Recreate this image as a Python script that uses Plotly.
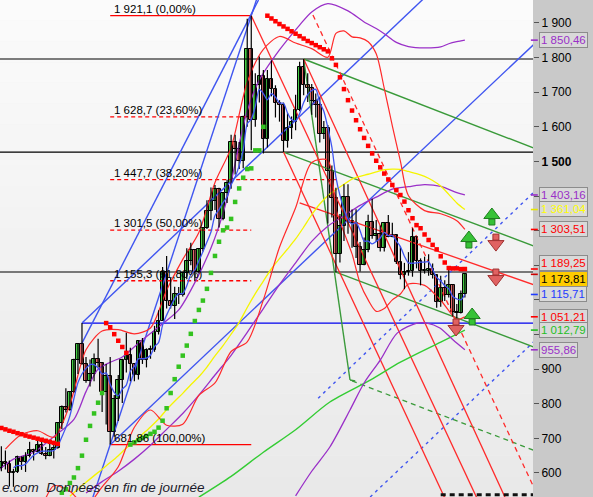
import plotly.graph_objects as go

# ---------------- data (monthly gold candles, index 0 = Aug 2006) ----------------
idx = list(range(-2, 115))
opens = [643, 613, 633, 626, 599, 604, 646, 632, 650, 665, 662, 680, 656, 650, 666, 673, 743, 790, 783, 834,
         925, 972, 916, 865, 886, 928, 918, 833, 880, 719, 815, 869, 927, 942, 916, 884, 980, 927, 955, 955,
         1007, 1040, 1180, 1096, 1082, 1118, 1113, 1179, 1213, 1244, 1181, 1248, 1307, 1357, 1386, 1421, 1333, 1410, 1439, 1556,
         1536, 1500, 1628, 1826, 1620, 1722, 1746, 1566, 1738, 1710, 1669, 1664, 1560, 1598, 1614, 1648, 1772, 1720, 1712, 1675,
         1663, 1578, 1597, 1472, 1393, 1234, 1314, 1396, 1327, 1323, 1253, 1202, 1244, 1326, 1284, 1291, 1250, 1322, 1282, 1287,
         1210, 1171, 1182, 1184, 1283, 1213, 1183, 1183, 1190, 1172, 1095, 1134, 1115, 1142, 1065, 1061, 1118]
highs = [644, 677, 665, 636, 612, 650, 648, 660, 690, 670, 693, 692, 675, 685, 681, 745, 795, 845, 837, 930,
         975, 1033, 935, 928, 945, 988, 920, 915, 935, 825, 883, 930, 1005, 962, 918, 982, 990, 960, 968, 1025,
         1070, 1195, 1227, 1163, 1138, 1137, 1180, 1249, 1265, 1245, 1250, 1310, 1388, 1425, 1432, 1424, 1412, 1447, 1577, 1577,
         1556, 1632, 1912, 1921.1, 1755, 1803, 1764, 1764, 1792, 1720, 1677, 1670, 1640, 1630, 1693, 1788, 1796, 1755, 1724, 1696,
         1684, 1617, 1605, 1488, 1424, 1348, 1434, 1434, 1361, 1362, 1267, 1280, 1346, 1392, 1331, 1315, 1325, 1345, 1323, 1290,
         1255, 1207, 1238, 1307, 1284, 1220, 1225, 1232, 1205, 1173, 1170, 1157, 1191, 1143, 1088, 1127, 1178]
lows = [543, 605, 610, 561, 560, 600, 609, 603, 645, 636, 660, 652, 640, 648, 642, 670, 727, 775, 780, 832,
        886, 913, 861, 850, 865, 905, 776, 740, 682, 705, 750, 802, 890, 865, 865, 870, 915, 905, 930, 950,
        1000, 1040, 1075, 1075, 1045, 1088, 1110, 1160, 1200, 1155, 1176, 1240, 1305, 1330, 1360, 1309, 1330, 1380, 1421, 1462,
        1478, 1480, 1600, 1532, 1600, 1670, 1523, 1540, 1688, 1627, 1615, 1527, 1540, 1565, 1590, 1645, 1691, 1672, 1635, 1627,
        1555, 1565, 1321, 1338, 1180, 1208, 1270, 1291, 1251, 1221, 1182, 1200, 1238, 1277, 1268, 1240, 1240, 1281, 1281, 1204,
        1160, 1131, 1170, 1167, 1191, 1142, 1176, 1170, 1162, 1077, 1080, 1097, 1107, 1052, 1046, 1061, 1107]
closes = [613, 633, 626, 599, 604, 646, 632, 650, 665, 662, 680, 656, 650, 666, 673, 743, 790, 783, 834, 925,
          972, 916, 865, 886, 928, 918, 833, 880, 719, 815, 869, 927, 942, 916, 884, 980, 927, 955, 955, 1007,
          1040, 1180, 1096, 1082, 1118, 1113, 1179, 1213, 1244, 1181, 1248, 1307, 1357, 1386, 1421, 1333, 1410, 1439, 1556, 1536,
          1500, 1628, 1826, 1620, 1722, 1746, 1566, 1738, 1710, 1669, 1664, 1560, 1598, 1614, 1648, 1772, 1720, 1712, 1675, 1663,
          1578, 1597, 1472, 1393, 1234, 1314, 1396, 1327, 1323, 1253, 1202, 1244, 1326, 1284, 1291, 1250, 1322, 1282, 1287, 1210,
          1171, 1182, 1184, 1283, 1213, 1183, 1183, 1190, 1172, 1095, 1134, 1115, 1142, 1065, 1061, 1118, 1173.81]

# short moving average (blue), index 2..114
ma_short_x = list(range(2, 115))
ma_short = [615, 622, 621, 626, 639, 651, 658, 663, 663, 663, 665, 678, 704, 731, 765, 815, 861, 886, 902, 913,
            913, 903, 886, 889, 856, 833, 823, 842, 854, 894, 908, 930, 930, 932, 940, 965, 977, 1027, 1056, 1081,
            1103, 1118, 1118, 1141, 1173, 1186, 1213, 1239, 1267, 1296, 1344, 1361, 1381, 1398, 1432, 1455, 1488, 1532, 1609, 1622,
            1659, 1708, 1696, 1678, 1696, 1686, 1669, 1668, 1640, 1621, 1617, 1638, 1670, 1693, 1705, 1708, 1670, 1645, 1597, 1541,
            1455, 1402, 1362, 1333, 1319, 1323, 1300, 1270, 1270, 1262, 1269, 1279, 1295, 1286, 1286, 1270, 1254, 1226, 1207, 1206,
            1207, 1209, 1209, 1210, 1188, 1165, 1155, 1141, 1132, 1110, 1103, 1100, 1115.71]

# long moving average (yellow)
ma_long_x = [16, 20, 24, 26, 28, 30, 32, 34, 36, 38, 40, 42, 44, 46, 48, 50, 52, 54, 56, 58, 60, 62, 64, 66, 68,
             70, 72, 74, 76, 78, 80, 82, 84, 86, 88, 90, 92, 94, 96, 98, 100, 102, 104, 106, 108, 110, 112, 114]
ma_long = [533, 573, 611, 630, 650, 672, 691, 712, 733, 756, 783, 807, 830, 855, 878, 906, 938, 968, 1001, 1035,
           1078, 1118, 1154, 1190, 1219, 1247, 1276, 1310, 1346, 1377, 1401, 1418, 1434, 1449, 1457, 1463, 1470, 1476,
           1478, 1477, 1471, 1465, 1457, 1445, 1429, 1405, 1380, 1361.04]

# very long average (light green)
ma_vlong_x = [48, 56, 64, 72, 80.5, 90.5, 98, 108, 114]
ma_vlong = [530, 590, 660, 725, 805, 868, 920, 978, 1012.79]

# wide bands (purple)
pb_mid_x = [20, 24, 28, 32, 36, 40, 44, 48, 52, 56, 60, 64, 68, 72, 76, 80, 84, 88, 92, 96, 100, 104, 108, 112, 114]
pb_mid = [542, 575, 605, 640, 680, 726, 772, 825, 883, 940, 1006, 1075, 1144, 1207, 1269, 1313, 1343, 1373, 1397,
          1420, 1427, 1433, 1428, 1410, 1403.16]
pb_up_x = [-2, 2, 7, 12, 17, 20, 23, 26, 29, 33, 38, 43, 47, 51, 54, 56, 58, 60, 63, 68, 73, 76, 80, 85, 89, 92,
           94, 97, 100, 104, 108, 110, 112, 114]
pb_up = [605, 640, 660, 705, 755, 835, 900, 920, 935, 975, 1022, 1071, 1150, 1250, 1350, 1440, 1550, 1646, 1735,
         1822, 1894, 1932, 1956, 1935, 1903, 1884, 1869, 1844, 1832, 1828, 1831, 1840, 1846, 1850.46]
pb_lo_x = [72, 76, 80.5, 85.5, 89, 93, 97.2, 102.1, 104.6, 107.8, 111.1, 114]
pb_lo = [534, 605, 675, 782, 860, 926, 1004, 1033, 1033, 1019, 984, 955.86]

# short bands (red)
rb_x = [0, 4, 8, 12, 16, 20, 24, 28, 32, 36, 40, 44, 48, 52, 56, 60, 64, 68, 72, 76, 80, 82, 84, 86, 88, 90,
        92, 94, 96, 98, 100, 104, 108, 112, 114]
rb_up = [669, 711, 722, 703, 798, 956, 1010, 1014, 1002, 1019, 1128, 1217, 1295, 1439, 1540, 1729, 1824, 1861,
         1842, 1826, 1801, 1870, 1877, 1860, 1857, 1846, 1811, 1711, 1603, 1501, 1401, 1358, 1349, 1329, 1303.51]
rb_lo = [357, 391, 474, 563, 547, 505, 560, 618, 732, 782, 738, 741, 824, 860, 951, 979, 1100, 1252, 1366, 1497,
         1503, 1363, 1295, 1233, 1148, 1100, 1067, 1075, 1100, 1117, 1146, 1142, 1099, 1044, 1051.21]

# parabolic stop-and-reverse dots
sar_red_x = list(range(-1, 14)) + list(range(25, 31)) + list(range(65, 115))
sar_red = [730, 726, 722, 719, 715, 712, 708, 705, 702, 699, 696, 693, 690, 687, 684,
           1033, 1021, 1001, 982, 964, 947,
           1921, 1913, 1905, 1897, 1890, 1883, 1876, 1869, 1862, 1855, 1848, 1842, 1836, 1830, 1824, 1818,
           1798, 1779, 1743, 1709, 1677, 1647, 1619, 1593, 1568, 1545, 1523, 1502, 1483, 1465, 1448, 1432,
           1417, 1403, 1384, 1359, 1336, 1316, 1307, 1289, 1273, 1259, 1246, 1226, 1208, 1192, 1191, 1191, 1189, 1189.25]
sar_green_x = list(range(14, 25)) + list(range(31, 65))
sar_green = [543, 553, 571, 587, 614, 650, 696, 736, 772, 803, 831,
             682, 688.5, 695, 701, 707, 713, 719, 731, 751, 787, 831, 871, 907, 939, 968, 1002, 1039, 1071, 1098,
             1132, 1178, 1227, 1268, 1301, 1309, 1334, 1383, 1422, 1453, 1478, 1480, 1532, 1532, 1600]

# Fibonacci retracement
fib_levels = [1921.1, 1628.7, 1447.7, 1301.5, 1155.3, 681.86]
fib_labels = ["1 921,1 (0,00%)", "1 628,7 (23,60%)", "1 447,7 (38,20%)", "1 301,5 (50,00%)",
              "1 155,3 (61,80%)", "681,86 (100,00%)"]
fib_start = 26
fib_end = [61, 61, 82, 61, 61, 61]

# horizontal supports/resistances
black_levels = [1796, 1527, 1180.6]
blue_level = 1033
blue_level_start = 19

# straight lines: (start index, start price, end index, end price)
blue_lines = [(19, 1033, 106, 1995), (26, 681.86, 131, 1837), (21.5, 522.6, 63, 1992),
              (19, 975, 62.8, 1966.4)]
blue_dotted = [(77.6, 816, 131, 1410), (90.5, 530.6, 131, 978)]
red_lines = [(61, 1921.1, 117, 527), (69, 1527, 109, 528), (74, 1796, 124, 528.6), (73, 1380, 131, 1144)]
red_dashed = [(76.3, 1923, 131, 561)]
green_lines = [(74, 1796, 131, 1539), (69, 1527, 131, 1256), (82, 1180, 131, 964),
               (74, 1796, 85.5, 868.6)]
green_dashed = [(86, 866, 131, 666)]
green_tick = [(85.5, 868.6, 86.8, 866)]

# signal arrows
arrow_up_x = [120.7, 115.0, 115.8]
arrow_up_p = [1339.5, 1273, 1050.6]
arrow_dn_x = [121.7, 121.7, 111.8]
arrow_dn_p = [1267, 1166, 1021.7]

# right-hand value tags
tag_values = [1850.46, 1403.16, 1361.04, 1303.51, 1189.25, 1173.81, 1115.71, 1051.21, 1012.79, 955.86]
tag_texts = ["1 850,46", "1 403,16", "1 361,04", "1 303,51", "1 189,25", "1 173,81", "1 115,71",
             "1 051,21", "1 012,79", "955,86"]

ytick_vals = [600, 700, 800, 900, 1000, 1100, 1200, 1300, 1400, 1500, 1600, 1700, 1800, 1900]
ytick_text = ["600", "700", "800", "900", "", "", "", "", "", "<b>1 500</b>", "1 600", "1 700", "1 800", "1 900"]

# ---------------- styling ----------------
FONT = "Liberation Sans, Arial, sans-serif"
C_BLUE = "#3f55f0"
C_RED = "#ff2a2a"
C_GREEN = "#3a9a3a"
C_LIME = "#33cc33"
C_PURPLE = "#9a30c8"
C_YELLOW = "#f5f500"
X_RANGE = [-1.34, 130.9]
Y_RANGE = [530.6, 1966.4]
PX = (Y_RANGE[1] - Y_RANGE[0]) / 497.0  # price per pixel

fig = go.Figure()

def seg_trace(segs, color, width=1.2, dash=None):
    xs, ys = [], []
    for (x0, y0, x1, y1) in segs:
        xs += [x0, x1, None]
        ys += [y0, y1, None]
    fig.add_trace(go.Scatter(x=xs, y=ys, mode="lines", hoverinfo="skip",
                             line=dict(color=color, width=width, dash=dash)))

# background gradient bands
nb = 24
for k in range(nb):
    t = k / (nb - 1)
    v = int(round(251 - 18 * t))
    fig.add_shape(type="rect", xref="paper", yref="paper", x0=0, x1=1,
                  y0=1 - (k + 1) / nb, y1=1 - k / nb, line=dict(width=0),
                  fillcolor=f"rgb({v},{v},{v})", layer="below")

seg_trace([(X_RANGE[0], v, X_RANGE[1], v) for v in black_levels], "#000000", 1.2)
seg_trace([(blue_level_start, blue_level, X_RANGE[1], blue_level)], "#0000ee", 1.4)

for lv, end, k in zip(fib_levels, fib_end, range(len(fib_levels))):
    dash = None if k in (0, len(fib_levels) - 1) else "4px,3px"
    seg_trace([(fib_start, lv, end, lv)], "#ff0000", 1.3, dash)

seg_trace(blue_lines, C_BLUE, 1.4)
seg_trace(blue_dotted, C_BLUE, 1.4, "3px,4px")
seg_trace(green_lines, C_GREEN, 1.4)
seg_trace(green_tick, C_GREEN, 1.4)
seg_trace(green_dashed, C_GREEN, 1.3, "5px,4px")
seg_trace(red_lines, C_RED, 1.3)
seg_trace(red_dashed, C_RED, 1.3, "5px,4px")

def curve(x, y, color, width=1.2):
    fig.add_trace(go.Scatter(x=x, y=y, mode="lines", hoverinfo="skip",
                             line=dict(color=color, width=width, shape="spline", smoothing=0.8)))

curve(ma_vlong_x, ma_vlong, C_LIME, 1.4)
curve(pb_up_x, pb_up, C_PURPLE, 1.3)
curve(pb_mid_x, pb_mid, C_PURPLE, 1.3)
curve(pb_lo_x, pb_lo, C_PURPLE, 1.3)
curve(ma_long_x, ma_long, C_YELLOW, 1.3)
curve(rb_x, rb_up, C_RED, 1.2)
curve(rb_x, rb_lo, C_RED, 1.2)

# candles: wicks then bodies
wx, wy = [], []
for i, h, l in zip(idx, highs, lows):
    wx += [i, i, None]
    wy += [l, h, None]
fig.add_trace(go.Scatter(x=wx, y=wy, mode="lines", line=dict(color="#000000", width=1.2), hoverinfo="skip"))
for up, col in ((True, "#44cc44"), (False, "#e46c6c")):
    bx, bb, bh = [], [], []
    for i, o, c in zip(idx, opens, closes):
        if (c >= o) == up:
            bx.append(i)
            bb.append(min(o, c))
            bh.append(max(abs(c - o), 2.5))
    fig.add_trace(go.Bar(x=bx, y=bh, base=bb, width=0.9, marker=dict(color=col, line=dict(color="#000000", width=1)),
                         hoverinfo="skip"))

curve(ma_short_x, ma_short, C_BLUE, 1.3)

fig.add_trace(go.Scatter(x=sar_red_x, y=sar_red, mode="markers", hoverinfo="skip",
                         marker=dict(symbol="square", size=4.5, color="#ff0000", line=dict(width=0))))
fig.add_trace(go.Scatter(x=sar_green_x, y=sar_green, mode="markers", hoverinfo="skip",
                         marker=dict(symbol="square", size=4.5, color="#33c21f", line=dict(width=0))))

fig.add_trace(go.Scatter(x=arrow_up_x, y=[p + 2 * PX for p in arrow_up_p], mode="markers", hoverinfo="skip",
                         marker=dict(symbol="triangle-up", size=14, color="#36c236", line=dict(color="#1f7f1f", width=1))))
fig.add_trace(go.Scatter(x=arrow_up_x, y=[p - 5 * PX for p in arrow_up_p], mode="markers", hoverinfo="skip",
                         marker=dict(symbol="square", size=6, color="#36c236", line=dict(color="#1f7f1f", width=1))))
fig.add_trace(go.Scatter(x=arrow_dn_x, y=[p - 2 * PX for p in arrow_dn_p], mode="markers", hoverinfo="skip",
                         marker=dict(symbol="triangle-down", size=14, color="#e06262", line=dict(color="#a03030", width=1))))
fig.add_trace(go.Scatter(x=arrow_dn_x, y=[p + 5 * PX for p in arrow_dn_p], mode="markers", hoverinfo="skip",
                         marker=dict(symbol="square", size=6, color="#e06262", line=dict(color="#a03030", width=1))))

seg_trace([(108, 537, X_RANGE[1], 537)], "#111111", 3, "5px,4px")

annotations = []
for lv, txt in zip(fib_levels, fib_labels):
    annotations.append(dict(x=fib_start + 0.4, y=lv, xref="x", yref="y", text=txt, showarrow=False,
                            xanchor="left", yanchor="bottom", yshift=-1,
                            font=dict(family=FONT, size=11.5, color="#000000")))

tag_colors = [C_PURPLE, C_PURPLE, "#ffff00", "#ff0000", "#ff0000", "#000000", "#1f3cff", "#ff0000", "#1fbf1f", C_PURPLE]
tick_colors = [C_PURPLE, C_PURPLE, "#e6e600", "#ff0000", "#ff0000", "#cc0000", "#1f3cff", "#ff0000", "#1fbf1f", C_PURPLE]
tag_bg = ["#d9d9d9"] * 5 + ["#ffcc00"] + ["#d9d9d9"] * 4
tag_shift = [0, 0, 1, 0, 6, -4.5, 0, 0, 0, 0]
for v, t, c, bg, s in zip(tag_values, tag_texts, tag_colors, tag_bg, tag_shift):
    annotations.append(dict(x=1, y=v, xref="paper", yref="y", text=t, showarrow=False, xanchor="left",
                            xshift=6, yshift=s, bgcolor=bg, bordercolor="#8c8c8c", borderwidth=1, borderpad=1,
                            font=dict(family=FONT, size=11.5, color=c)))

shapes = []
for v, c in zip(tag_values, tick_colors):
    shapes.append(dict(type="line", xref="paper", yref="y", x0=0.996, x1=1.009, y0=v, y1=v,
                       line=dict(color=c, width=1.6), layer="above"))

annotations.append(dict(x=0, y=0, xref="paper", yref="paper", text="<i>e.com  Données en fin de journée</i>",
                        showarrow=False, xanchor="left", yanchor="bottom", yshift=0,
                        font=dict(family=FONT, size=13.5, color="#1a1a2a")))

for s in shapes:
    fig.add_shape(**s)

fig.update_layout(
    width=593, height=497, margin=dict(l=0, r=60, t=0, b=0, autoexpand=False),
    paper_bgcolor="#c9c9c9", plot_bgcolor="#f2f2f2",
    showlegend=False, barmode="overlay", bargap=0,
    annotations=annotations,
    xaxis=dict(range=X_RANGE, visible=False, showgrid=False, zeroline=False, fixedrange=True),
    yaxis=dict(range=Y_RANGE, side="right", showgrid=False, zeroline=False, tickvals=ytick_vals,
               ticktext=ytick_text, ticks="outside", ticklen=5, tickcolor="#555555", showline=False,
               automargin=False, tickfont=dict(family=FONT, size=12, color="#000000")),
)

fig.write_html("out.html", config={"displayModeBar": False},
               post_script="document.body.style.margin='0px';document.body.style.padding='0px';")
